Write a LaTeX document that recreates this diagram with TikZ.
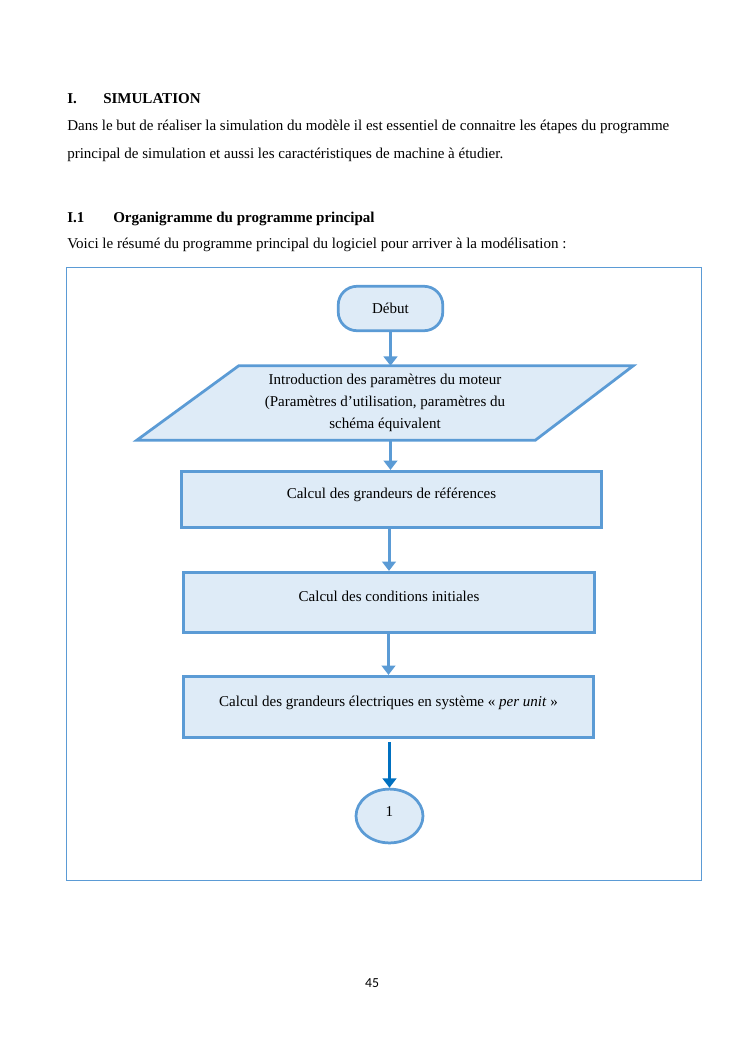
\documentclass[tikz,border=0pt]{standalone}
\usepackage{fontspec}
\setmainfont{Liberation Serif}
\newfontfamily\pagefont{Carlito}
\usetikzlibrary{arrows.meta,shapes.geometric,calc,backgrounds}
\definecolor{boxline}{HTML}{5B9BD5}
\definecolor{boxfill}{HTML}{DEEBF7}
\definecolor{darkarrow}{HTML}{0070C0}
\begin{document}
\begin{tikzpicture}[x=0.7987pt,y=-0.7987pt,
  font=\fontsize{12}{14}\selectfont,
  txt/.style={anchor=base west, inner sep=0pt},
  shapebox/.style={draw=boxline, fill=boxfill, line width=2.2pt, align=center,
    text height=9pt, text depth=10pt, inner sep=0pt},
  flow/.style={draw=boxline, line width=2.4pt, -{Triangle[length=7.5pt,width=11pt]}},
  darkflow/.style={draw=darkarrow, line width=2.4pt, -{Triangle[length=7.5pt,width=11pt]}},
]
\useasboundingbox (0,0) rectangle (745,1053);
% text
\node[txt,font=\fontsize{12}{14}\selectfont\bfseries] (h1n) at (67,103) {I.};
\node[txt,font=\fontsize{12}{14}\selectfont\bfseries] (h1) at (103,103) {SIMULATION};
\node[txt] (p1) at (67,130.5) {Dans le but de réaliser la simulation du modèle il est essentiel de connaitre les étapes du programme};
\node[txt] (p2) at (67,158.5) {principal de simulation et aussi les caractéristiques de machine à étudier.};
\node[txt,font=\fontsize{12}{14}\selectfont\bfseries] (h2n) at (67,222) {I.1};
\node[txt,font=\fontsize{12}{14}\selectfont\bfseries] (h2) at (113,222) {Organigramme du programme principal};
\node[txt] (p3) at (67,248) {Voici le résumé du programme principal du logiciel pour arriver à la modélisation :};
% frame
\node[draw=boxline, line width=0.8pt, minimum width=506.4pt, minimum height=489.6pt, inner sep=0pt] (frame) at (384,573.5) {};
% flowchart
\node[draw=boxline, fill=boxfill, line width=2.2pt, rounded corners=15pt, minimum width=83.5pt, minimum height=35.5pt, inner sep=0pt] (debut) at (390.5,308.5) {Début};
\node[align=center, minimum width=396.2pt, minimum height=59.1pt, inner sep=0pt,
  font=\fontsize{12}{17.6}\selectfont] (intro) at (385,403) {Introduction des paramètres du moteur\\(Paramètres d’utilisation, paramètres du\\schéma équivalent};
\begin{scope}[on background layer]
\draw[draw=boxline, fill=boxfill, line width=2.2pt, line join=miter]
  ($(intro.north west)+(102,0)$) -- (intro.north east) -- ($(intro.south east)-(98,0)$) -- (intro.south west) -- cycle;
\end{scope}
\node[shapebox, minimum width=335.9pt, minimum height=45.1pt] (ref) at (391.5,499.5) {Calcul des grandeurs de références};
\node[shapebox, minimum width=328.7pt, minimum height=48.3pt] (init) at (389,602.5) {Calcul des conditions initiales};
\node[shapebox, minimum width=327.9pt, minimum height=49.1pt] (pu) at (388.5,707) {Calcul des grandeurs électriques en système « \textit{per unit} »};
\node[shapebox, ellipse, minimum width=53.5pt, minimum height=43pt, text height=8pt, text depth=7pt] (one) at (389.5,816) {1};
% connectors
\draw[flow] (debut.south) -- (debut.south |- intro.north);
\draw[flow] (intro.south -| debut.south) -- (debut.south |- ref.north);
\draw[flow] (ref.south -| init.north) -- (init.north);
\draw[flow] (init.south -| pu.north) -- (pu.north);
\draw[darkflow] ($(pu.south -| one.north)+(0,3)$) -- (one.north);
% page number
\node[font=\pagefont\fontsize{11}{13}\selectfont, inner sep=0pt, anchor=base] (pg) at (372,987) {45};
\end{tikzpicture}
\end{document}
